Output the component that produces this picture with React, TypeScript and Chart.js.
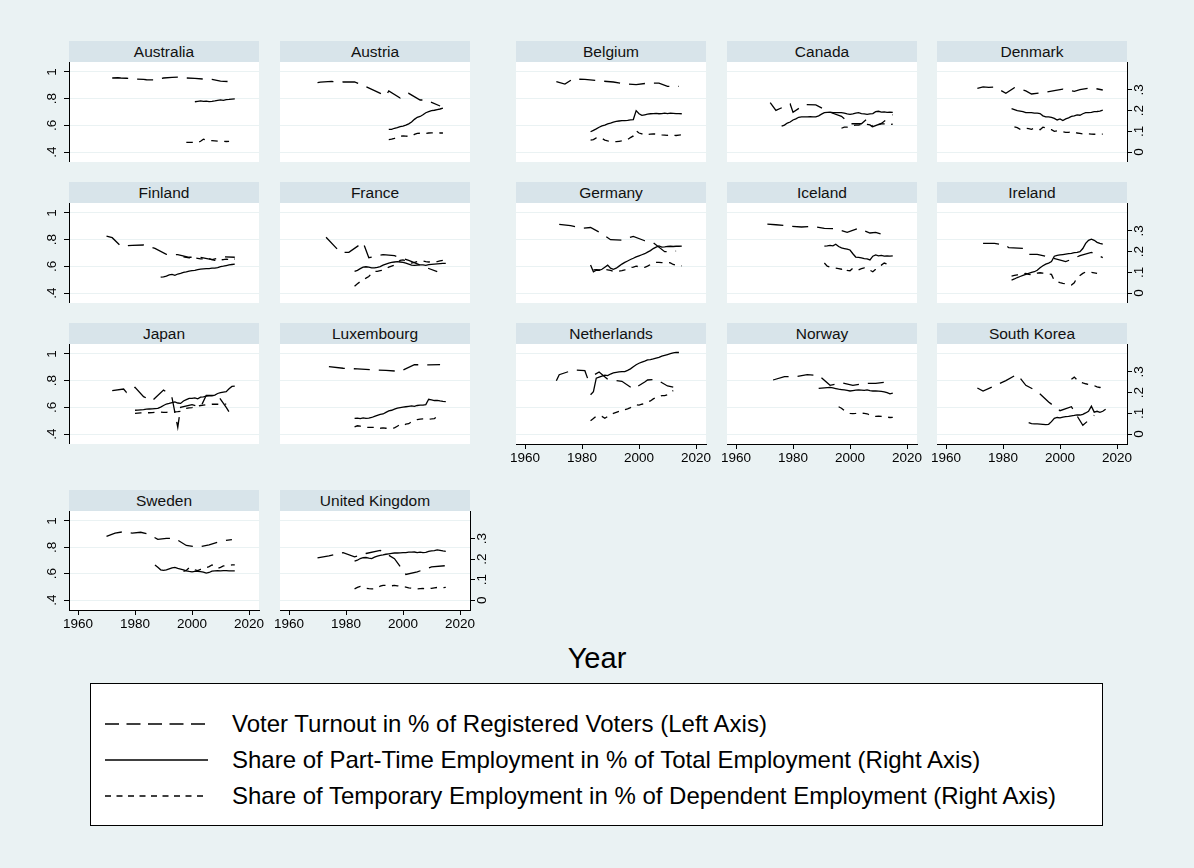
import React, { useEffect, useRef } from "react";
import { Chart, registerables } from "chart.js";

Chart.register(...registerables);

type Pair = [number, number];
type Annual = { from: number; values: number[] };

// ---------- categories & ticks ----------
const countries = [
  "Australia", "Austria", "Belgium", "Canada", "Denmark",
  "Finland", "France", "Germany", "Iceland", "Ireland",
  "Japan", "Luxembourg", "Netherlands", "Norway", "South Korea",
  "Sweden", "United Kingdom",
];
const xTicks = [1960, 1980, 2000, 2020];
const leftTicks = [0.4, 0.6, 0.8, 1];
const rightTicks = [0, 0.1, 0.2, 0.3];
const legendLabels = [
  "Voter Turnout in % of Registered Voters (Left Axis)",
  "Share of Part-Time Employment in % of Total Employment (Right Axis)",
  "Share of Temporary Employment in % of Dependent Employment (Right Axis)",
];
const xTitle = "Year";

// ---------- data: turnout [election year, share]; part-time & temporary annual ----------
const turnoutAustralia: Pair[] = [[1972,.955],[1974,.957],[1975,.955],[1977,.953],[1980,.947],[1983,.945],[1984,.942],[1987,.94],[1990,.955],[1993,.96],[1996,.962],[1998,.955],[2001,.952],[2004,.947],[2007,.945],[2010,.932],[2013,.928]];
const partTimeAustralia: Annual = { from: 2001, values: [.243,.245,.247,.245,.246,.244,.245,.247,.25,.252,.25,.253,.254,.256,.257] };
const temporaryAustralia: Annual = { from: 1998, values: [.047,.047,.047,.046,.046,.052,.062,.058,.056,.055,.054,.053,.052,.052,.051,.052] };

const turnoutAustria: Pair[] = [[1970,.92],[1971,.924],[1975,.929],[1979,.925],[1983,.926],[1986,.9],[1990,.86],[1994,.82],[1995,.858],[1999,.805],[2002,.84],[2006,.79],[2008,.79],[2013,.745]];
const partTimeAustria: Annual = { from: 1995, values: [.11,.11,.115,.118,.123,.125,.13,.136,.145,.158,.168,.172,.18,.19,.195,.2,.202,.205,.208,.212] };
const temporaryAustria: Annual = { from: 1995, values: [.06,.062,.066,.075,.077,.078,.077,.076,.077,.085,.09,.091,.089,.09,.092,.093,.093,.093,.092,.092] };

const turnoutBelgium: Pair[] = [[1971,.927],[1974,.909],[1977,.951],[1978,.946],[1981,.945],[1985,.936],[1987,.932],[1991,.925],[1995,.912],[1999,.906],[2003,.916],[2007,.916],[2010,.892],[2014,.892]];
const partTimeBelgium: Annual = { from: 1983, values: [.098,.105,.112,.12,.126,.13,.136,.14,.145,.148,.15,.152,.152,.153,.155,.157,.2,.185,.177,.18,.183,.185,.186,.187,.185,.186,.188,.186,.188,.187,.186,.186,.185] };
const temporaryBelgium: Annual = { from: 1983, values: [.058,.06,.068,.07,.066,.058,.054,.052,.051,.05,.052,.054,.056,.06,.07,.078,.103,.092,.088,.082,.085,.087,.088,.087,.086,.083,.082,.081,.084,.081,.08,.082,.083] };

const turnoutCanada: Pair[] = [[1972,.77],[1974,.712],[1979,.76],[1980,.698],[1984,.755],[1988,.753],[1993,.698],[1997,.668],[2000,.612],[2004,.612],[2006,.648],[2008,.59],[2011,.614],[2015,.68]];
const partTimeCanada: Annual = { from: 1976, values: [.125,.13,.14,.145,.155,.16,.168,.17,.17,.17,.171,.17,.17,.175,.183,.19,.192,.193,.19,.19,.19,.19,.188,.184,.182,.184,.188,.19,.186,.184,.182,.184,.186,.195,.197,.193,.194,.192,.193,.192] };
const temporaryCanada: Annual = { from: 1997, values: [.115,.12,.12,.125,.128,.13,.13,.133,.135,.134,.131,.12,.122,.133,.136,.136,.133,.133,.135] };

const turnoutDenmark: Pair[] = [[1971,.878],[1973,.889],[1975,.885],[1977,.888],[1979,.865],[1981,.84],[1984,.882],[1987,.865],[1988,.858],[1990,.835],[1994,.845],[1998,.86],[2001,.872],[2005,.855],[2007,.867],[2011,.882],[2015,.865]];
const partTimeDenmark: Annual = { from: 1983, values: [.21,.205,.2,.198,.195,.19,.19,.19,.188,.188,.186,.175,.17,.17,.168,.163,.155,.16,.152,.16,.165,.172,.175,.18,.178,.185,.19,.19,.192,.195,.196,.198,.203] };
const temporaryDenmark: Annual = { from: 1984, values: [.122,.118,.11,.113,.115,.113,.11,.115,.112,.108,.12,.117,.11,.108,.1,.102,.1,.098,.095,.095,.098,.098,.092,.09,.088,.087,.088,.087,.086,.088,.087,.087] };

const turnoutFinland: Pair[] = [[1970,.826],[1972,.815],[1975,.752],[1979,.757],[1983,.76],[1987,.735],[1991,.69],[1995,.688],[1999,.668],[2003,.668],[2007,.65],[2011,.672],[2015,.668]];
const partTimeFinland: Annual = { from: 1989, values: [.077,.078,.082,.088,.09,.086,.092,.095,.1,.102,.106,.108,.11,.113,.116,.117,.118,.118,.12,.12,.123,.128,.13,.133,.136,.138,.14] };
const temporaryFinland: Annual = { from: 1997, values: [.175,.172,.17,.172,.17,.168,.165,.165,.168,.166,.162,.158,.156,.16,.162,.164,.162,.158,.165] };

const turnoutFrance: Pair[] = [[1973,.818],[1978,.705],[1981,.705],[1986,.78],[1988,.665],[1993,.688],[1997,.68],[2002,.645],[2007,.6],[2012,.56]];
const partTimeFrance: Annual = { from: 1983, values: [.105,.11,.118,.125,.127,.125,.122,.122,.124,.128,.135,.14,.145,.148,.15,.152,.15,.148,.145,.14,.135,.134,.135,.136,.136,.134,.137,.139,.14,.141,.142,.143,.143] };
const temporaryFrance: Annual = { from: 1983, values: [.033,.045,.055,.065,.072,.08,.095,.105,.105,.108,.11,.118,.125,.13,.135,.145,.158,.16,.155,.148,.145,.148,.152,.155,.155,.152,.15,.152,.153,.152,.155,.158,.16] };

const turnoutGermany: Pair[] = [[1972,.915],[1976,.905],[1980,.886],[1983,.891],[1987,.845],[1990,.8],[1994,.797],[1998,.825],[2002,.792],[2005,.777],[2009,.71],[2013,.715]];
const partTimeGermany: Annual = { from: 1983, values: [.135,.103,.11,.11,.115,.125,.135,.12,.115,.12,.13,.14,.148,.155,.162,.168,.175,.18,.185,.19,.198,.205,.215,.222,.228,.222,.223,.225,.226,.225,.226,.226,.227] };
const temporaryGermany: Annual = { from: 1984, values: [.112,.113,.112,.114,.114,.112,.11,.105,.105,.106,.108,.112,.118,.123,.125,.13,.127,.125,.124,.13,.138,.146,.148,.148,.147,.146,.148,.146,.138,.134,.13,.131] };

const turnoutIceland: Pair[] = [[1971,.917],[1974,.912],[1978,.905],[1979,.9],[1983,.895],[1987,.9],[1991,.885],[1995,.882],[1999,.855],[2003,.885],[2007,.85],[2009,.855],[2013,.83]];
const partTimeIceland: Annual = { from: 1991, values: [.227,.228,.23,.228,.236,.225,.218,.215,.212,.208,.19,.174,.172,.17,.166,.165,.16,.178,.184,.18,.182,.178,.18,.178,.18] };
const temporaryIceland: Annual = { from: 1991, values: [.145,.13,.125,.122,.12,.118,.115,.124,.11,.108,.12,.118,.112,.118,.122,.12,.11,.103,.115,.128,.135,.145,.14] };

const turnoutIreland: Pair[] = [[1973,.772],[1977,.772],[1981,.76],[1982,.74],[1987,.735],[1989,.69],[1992,.69],[1997,.665],[2002,.635],[2007,.68],[2011,.705],[2015,.665]];
const partTimeIreland: Annual = { from: 1983, values: [.063,.068,.075,.08,.085,.09,.095,.1,.103,.11,.122,.132,.14,.145,.152,.178,.182,.184,.186,.188,.19,.192,.195,.197,.2,.215,.24,.255,.26,.255,.245,.24,.236] };
const temporaryIreland: Annual = { from: 1983, values: [.082,.085,.088,.09,.092,.095,.09,.088,.092,.096,.098,.096,.094,.092,.09,.06,.055,.05,.047,.045,.04,.039,.05,.075,.085,.095,.102,.103,.1,.098,.095] };

const turnoutJapan: Pair[] = [[1972,.725],[1976,.737],[1977,.712],[1980,.75],[1983,.68],[1986,.648],[1990,.73],[1992,.7],[1993,.67],[1995,.45],[1996,.6],[2000,.62],[2003,.6],[2005,.69],[2009,.69],[2012,.6],[2014,.53]];
const partTimeJapan: Annual = { from: 1980, values: [.115,.116,.117,.118,.12,.121,.122,.123,.124,.13,.138,.145,.148,.152,.155,.15,.148,.16,.166,.172,.172,.175,.17,.178,.18,.183,.184,.185,.188,.196,.2,.203,.205,.219,.23,.232] };
const temporaryJapan: Annual = { from: 1980, values: [.1,.101,.102,.102,.103,.103,.104,.105,.106,.106,.105,.105,.106,.106,.107,.108,.11,.115,.124,.126,.128,.131,.135,.138,.14,.142,.143,.144,.144,.144,.144,.145,.145] };

const turnoutLuxembourg: Pair[] = [[1974,.905],[1979,.893],[1984,.888],[1989,.882],[1994,.877],[1999,.87],[2004,.92],[2009,.918],[2013,.92]];
const partTimeLuxembourg: Annual = { from: 1983, values: [.076,.077,.075,.078,.076,.077,.08,.085,.09,.095,.097,.105,.112,.115,.12,.125,.128,.13,.132,.134,.136,.134,.138,.14,.14,.142,.168,.165,.162,.163,.16,.158,.157] };
const temporaryLuxembourg: Annual = { from: 1983, values: [.035,.04,.038,.035,.033,.032,.032,.033,.03,.028,.03,.028,.028,.028,.03,.038,.046,.042,.048,.05,.06,.065,.07,.072,.073,.073,.072,.073,.075,.085,.1] };

const turnoutNetherlands: Pair[] = [[1971,.8],[1972,.845],[1977,.88],[1981,.875],[1982,.815],[1986,.865],[1989,.81],[1994,.795],[1998,.737],[2002,.79],[2003,.805],[2006,.81],[2010,.76],[2012,.752]];
const partTimeNetherlands: Annual = { from: 1983, values: [.19,.205,.27,.275,.28,.285,.282,.29,.295,.298,.3,.302,.302,.308,.315,.325,.335,.342,.347,.352,.358,.36,.363,.367,.37,.376,.38,.384,.388,.392,.395,.394] };
const temporaryNetherlands: Annual = { from: 1983, values: [.064,.075,.087,.088,.085,.076,.085,.095,.1,.105,.11,.11,.118,.122,.128,.135,.142,.14,.144,.147,.155,.16,.17,.176,.18,.186,.186,.19,.2,.21] };

const turnoutNorway: Pair[] = [[1973,.805],[1977,.83],[1981,.83],[1985,.845],[1989,.84],[1993,.765],[1997,.785],[2001,.765],[2005,.78],[2009,.78],[2013,.79]];
const partTimeNorway: Annual = { from: 1989, values: [.221,.222,.223,.224,.225,.223,.22,.217,.215,.213,.211,.208,.21,.212,.213,.212,.211,.213,.21,.208,.208,.207,.206,.204,.2,.194,.198] };
const temporaryNorway: Annual = { from: 1996, values: [.132,.125,.113,.105,.1,.099,.1,.102,.101,.1,.098,.092,.088,.085,.086,.085,.083,.082,.08,.081] };

const turnoutSouthKorea: Pair[] = [[1971,.745],[1973,.722],[1978,.77],[1981,.8],[1985,.848],[1988,.765],[1992,.72],[1996,.64],[2000,.575],[2004,.605],[2008,.465],[2012,.54]];
const partTimeSouthKorea: Annual = { from: 1989, values: [.055,.05,.049,.049,.048,.047,.046,.047,.06,.076,.08,.078,.082,.084,.085,.088,.09,.093,.092,.095,.102,.11,.135,.106,.11,.105,.11,.12] };
const temporarySouthKorea: Annual = { from: 2004, values: [.265,.275,.262,.252,.247,.243,.24,.238,.234,.228,.225,.226] };

const turnoutSweden: Pair[] = [[1970,.883],[1973,.908],[1976,.918],[1979,.907],[1982,.914],[1985,.898],[1988,.86],[1991,.867],[1994,.868],[1998,.814],[2002,.801],[2006,.819],[2010,.846],[2014,.858]];
const partTimeSweden: Annual = { from: 1987, values: [.172,.16,.148,.145,.148,.153,.158,.16,.155,.152,.148,.143,.14,.138,.14,.14,.139,.137,.132,.135,.142,.143,.144,.143,.144,.144,.143,.143,.143] };
const temporarySweden: Annual = { from: 1997, values: [.14,.145,.158,.155,.148,.144,.15,.152,.158,.164,.172,.165,.155,.16,.167,.168,.17,.172,.172] };

const turnoutUnitedKingdom: Pair[] = [[1970,.72],[1974,.735],[1979,.76],[1983,.727],[1987,.753],[1992,.777],[1997,.714],[2001,.594],[2005,.614],[2010,.651],[2015,.661]];
const partTimeUnitedKingdom: Annual = { from: 1983, values: [.19,.195,.203,.207,.208,.205,.203,.21,.215,.219,.221,.224,.226,.228,.23,.23,.231,.232,.232,.234,.234,.235,.232,.234,.232,.233,.238,.24,.242,.245,.243,.24,.238] };
const temporaryUnitedKingdom: Annual = { from: 1983, values: [.055,.062,.067,.062,.058,.056,.055,.055,.06,.068,.072,.072,.07,.07,.072,.07,.068,.066,.064,.06,.058,.056,.055,.056,.057,.055,.056,.058,.06,.062,.06,.061,.062] };

const seriesByCountry: Record<string, [Pair[], Annual, Annual]> = {
  "Australia": [turnoutAustralia, partTimeAustralia, temporaryAustralia],
  "Austria": [turnoutAustria, partTimeAustria, temporaryAustria],
  "Belgium": [turnoutBelgium, partTimeBelgium, temporaryBelgium],
  "Canada": [turnoutCanada, partTimeCanada, temporaryCanada],
  "Denmark": [turnoutDenmark, partTimeDenmark, temporaryDenmark],
  "Finland": [turnoutFinland, partTimeFinland, temporaryFinland],
  "France": [turnoutFrance, partTimeFrance, temporaryFrance],
  "Germany": [turnoutGermany, partTimeGermany, temporaryGermany],
  "Iceland": [turnoutIceland, partTimeIceland, temporaryIceland],
  "Ireland": [turnoutIreland, partTimeIreland, temporaryIreland],
  "Japan": [turnoutJapan, partTimeJapan, temporaryJapan],
  "Luxembourg": [turnoutLuxembourg, partTimeLuxembourg, temporaryLuxembourg],
  "Netherlands": [turnoutNetherlands, partTimeNetherlands, temporaryNetherlands],
  "Norway": [turnoutNorway, partTimeNorway, temporaryNorway],
  "South Korea": [turnoutSouthKorea, partTimeSouthKorea, temporarySouthKorea],
  "Sweden": [turnoutSweden, partTimeSweden, temporarySweden],
  "United Kingdom": [turnoutUnitedKingdom, partTimeUnitedKingdom, temporaryUnitedKingdom],
};

// ---------- styling / layout ----------
const FONT = "'Liberation Sans', Arial, Helvetica, sans-serif";
const BG = "rgb(234,242,243)";
const HEADER_BG = "rgb(216,228,234)";
const GRID = "rgb(234,242,243)";
const INK = "#000";
const COL_X = [69, 280, 516, 727, 937];
const ROW_Y = [62, 203, 344, 511];
const PW = 190;
const HEADER_H = 21;
const PAD = 18;
const DASH_LONG = [16, 9];
const DASH_SHORT = [6.5, 6.5];
const X_RANGE = [1956.84, 2023.5];
const L_RANGE = [0.325, 1.075];
const R_RANGE = [-0.048, 0.435];

const fmt = (v: number) => {
  const s = String(Math.round(v * 10) / 10);
  return s.startsWith("0.") ? s.slice(1) : s;
};
const annual = (a: Annual) => a.values.map((y, i) => ({ x: a.from + i, y }));
const noPad = (s: any) => {
  s.paddingTop = 0;
  s.paddingBottom = 0;
  s.paddingLeft = 0;
  s.paddingRight = 0;
};

const whitePlot = {
  id: "whitePlot",
  beforeDraw(chart: any) {
    const { ctx, chartArea: a } = chart;
    ctx.save();
    ctx.fillStyle = "#fff";
    ctx.fillRect(a.left, a.top, a.right - a.left, a.bottom - a.top);
    ctx.restore();
  },
};

function Panel({ name, row, col }: { name: string; row: number; col: number }) {
  const ref = useRef<HTMLCanvasElement | null>(null);
  const hasLeft = col === 0;
  const hasRight = col === 4 || name === "United Kingdom";
  const hasX = (row === 2 && col >= 2) || row === 3;
  const leftW = hasLeft ? 30 : 0;
  const rightW = hasRight ? 30 : 0;
  const bottomH = hasX ? 24 : 0;
  const H = row === 3 ? 99 : 100;
  const cw = PAD + leftW + PW + rightW + PAD;
  const ch = H + bottomH;

  useEffect(() => {
    const [turn, pt, tmp] = seriesByCountry[name];
    const line = { borderColor: INK, borderWidth: 1.3, pointRadius: 0, fill: false, tension: 0 };
    const tickFont = { family: FONT, size: 13.5 };
    const chart = new Chart(ref.current as HTMLCanvasElement, {
      type: "line",
      data: {
        datasets: [
          { ...line, data: turn.map(([x, y]) => ({ x, y })), yAxisID: "y", borderDash: DASH_LONG },
          { ...line, data: annual(pt), yAxisID: "y1", borderDash: [] },
          { ...line, data: annual(tmp), yAxisID: "y1", borderDash: DASH_SHORT },
        ],
      } as any,
      options: {
        animation: false,
        responsive: false,
        devicePixelRatio: 1,
        layout: { padding: { left: PAD, right: PAD, top: 0, bottom: 0 } },
        plugins: { legend: { display: false }, tooltip: { enabled: false } },
        events: [],
        scales: {
          x: {
            type: "linear",
            min: X_RANGE[0],
            max: X_RANGE[1],
            display: hasX,
            afterBuildTicks: (s: any) => { s.ticks = xTicks.map((v) => ({ value: v })); },
            afterFit: (s: any) => { s.height = bottomH; noPad(s); },
            grid: { drawOnChartArea: false, drawTicks: true, tickLength: 5, tickColor: INK, lineWidth: 1 },
            border: { display: true, color: INK, width: 1 },
            ticks: { font: tickFont, color: INK, padding: 1, maxRotation: 0, minRotation: 0, autoSkip: false, callback: (v: any) => String(v) },
          },
          y: {
            type: "linear",
            position: "left",
            min: L_RANGE[0],
            max: L_RANGE[1],
            afterBuildTicks: (s: any) => { s.ticks = leftTicks.map((v) => ({ value: v })); },
            afterFit: (s: any) => { s.width = leftW; noPad(s); },
            grid: { color: GRID, lineWidth: 1, drawTicks: hasLeft, tickLength: 5, tickColor: INK },
            border: { display: hasLeft, color: INK, width: 1 },
            ticks: { display: hasLeft, font: tickFont, color: INK, minRotation: 90, maxRotation: 90, crossAlign: "center", padding: 6, autoSkip: false, callback: (v: any) => fmt(Number(v)) },
          },
          y1: {
            type: "linear",
            position: "right",
            display: hasRight,
            min: R_RANGE[0],
            max: R_RANGE[1],
            afterBuildTicks: (s: any) => { s.ticks = rightTicks.map((v) => ({ value: v })); },
            afterFit: (s: any) => { s.width = rightW; noPad(s); },
            grid: { drawOnChartArea: false, drawTicks: true, tickLength: 5, tickColor: INK, lineWidth: 1 },
            border: { display: true, color: INK, width: 1 },
            ticks: { font: tickFont, color: INK, minRotation: 90, maxRotation: 90, crossAlign: "center", padding: 2, autoSkip: false, callback: (v: any) => fmt(Number(v)) },
          },
        },
      } as any,
      plugins: [whitePlot],
    });
    return () => chart.destroy();
  }, [name]);

  return (
    <>
      <div
        style={{
          position: "absolute", left: COL_X[col], top: ROW_Y[row] - HEADER_H, width: PW, height: HEADER_H,
          background: HEADER_BG, color: "#111", font: `15.5px ${FONT}`, lineHeight: `${HEADER_H}px`, textAlign: "center",
          whiteSpace: "nowrap",
        }}
      >
        {name}
      </div>
      <canvas
        ref={ref}
        width={cw}
        height={ch}
        style={{ position: "absolute", left: COL_X[col] - leftW - PAD, top: ROW_Y[row], width: cw, height: ch, display: "block" }}
      />
    </>
  );
}

function LegendSample({ dash }: { dash: string }) {
  return (
    <svg width={104} height={6} style={{ position: "absolute", left: 14, top: -3 }}>
      <line x1={0} y1={3} x2={103} y2={3} stroke="#000" strokeWidth={1.6} strokeDasharray={dash} />
    </svg>
  );
}

export default function App() {
  const dashes = ["14 7.5", "", "6 5.5"];
  return (
    <div style={{ position: "absolute", left: 0, top: 0, width: 1194, height: 868, background: BG, overflow: "hidden" }}>
      {countries.map((name, i) => {
        const row = i < 15 ? Math.floor(i / 5) : 3;
        const col = i < 15 ? i % 5 : i - 15;
        return <Panel key={name} name={name} row={row} col={col} />;
      })}
      <div style={{ position: "absolute", left: 0, width: 1194, top: 642, textAlign: "center", font: `29px ${FONT}`, color: "#000" }}>
        {xTitle}
      </div>
      <div
        style={{
          position: "absolute", left: 90, top: 683, width: 1013, height: 143, boxSizing: "border-box",
          border: "1px solid #000", background: "#fff",
        }}
      >
        {legendLabels.map((label, i) => (
          <div key={label} style={{ position: "absolute", left: 0, top: 40 + i * 36, width: "100%" }}>
            <LegendSample dash={dashes[i]} />
            <div style={{ position: "absolute", left: 141, top: -14, font: `24px ${FONT}`, lineHeight: "28px", whiteSpace: "nowrap", color: "#000" }}>
              {label}
            </div>
          </div>
        ))}
      </div>
    </div>
  );
}
